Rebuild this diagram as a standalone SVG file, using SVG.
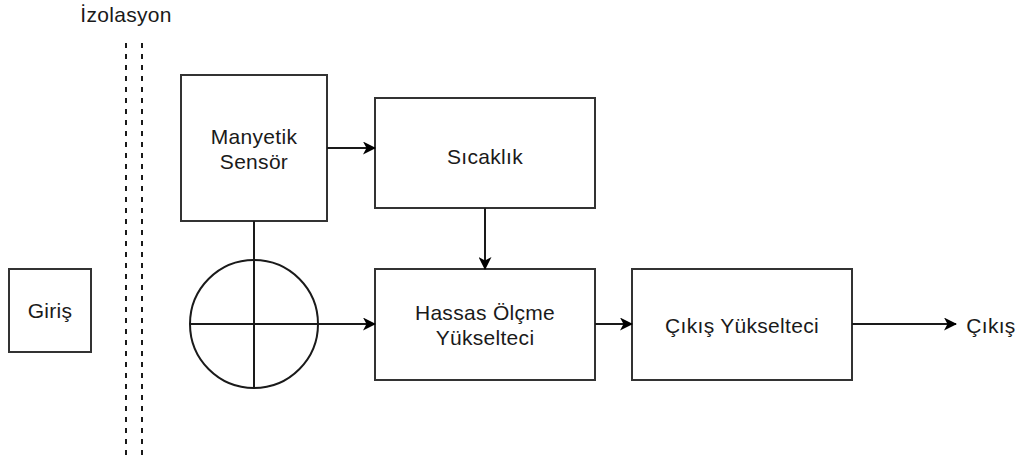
<svg xmlns="http://www.w3.org/2000/svg" width="1019" height="456" viewBox="0 0 1019 456">
  <style>
    .box { fill: #ffffff; stroke: #333333; stroke-width: 2; }
    .wire { fill: none; stroke: #1a1a1a; stroke-width: 2; }
    .iso { fill: none; stroke: #1a1a1a; stroke-width: 2; stroke-dasharray: 5 6; }
    text { font-family: "Liberation Sans", Arial, sans-serif; font-size: 21px; letter-spacing: 0.3px; fill: #1a1a1a; text-anchor: middle; }
  </style>
  <defs>
    <marker id="arrow" viewBox="0 0 13 13" refX="12" refY="6.5" markerWidth="13" markerHeight="13" markerUnits="userSpaceOnUse" orient="auto">
      <path d="M0,0 L13,6.5 L0,13 L3.5,6.5 Z" fill="#000000"/>
    </marker>
  </defs>

  <!-- isolation barrier -->
  <g id="izolasyon">
    <text x="126" y="22">İzolasyon</text>
    <line class="iso" x1="126" y1="43" x2="126" y2="456"/>
    <line class="iso" x1="142" y1="43" x2="142" y2="456"/>
  </g>

  <g id="giris">
    <rect class="box" x="9" y="269" width="82" height="83"/>
    <text x="50" y="318">Giriş</text>
  </g>

  <g id="manyetik-sensor">
    <rect class="box" x="181" y="75" width="146" height="146"/>
    <text x="254" y="144">Manyetik</text>
    <text x="254" y="169">Sensör</text>
  </g>

  <g id="sicaklik">
    <rect class="box" x="375" y="98" width="220" height="110"/>
    <text x="485" y="164">Sıcaklık</text>
  </g>

  <g id="toplayici">
    <circle class="wire" cx="254" cy="324" r="64"/>
  </g>

  <g id="hassas-olcme">
    <rect class="box" x="375" y="269" width="220" height="111"/>
    <text x="485" y="320">Hassas Ölçme</text>
    <text x="485" y="345">Yükselteci</text>
  </g>

  <g id="cikis-yukselteci">
    <rect class="box" x="632" y="269" width="220" height="111"/>
    <text x="742" y="333">Çıkış Yükselteci</text>
  </g>

  <g id="cikis">
    <text x="991" y="333">Çıkış</text>
  </g>

  <!-- connectors -->
  <g id="connectors">
    <line class="wire" x1="254" y1="221" x2="254" y2="388"/>
    <line class="wire" x1="190" y1="324" x2="375" y2="324" marker-end="url(#arrow)"/>
    <line class="wire" x1="327" y1="148" x2="375" y2="148" marker-end="url(#arrow)"/>
    <line class="wire" x1="485" y1="208" x2="485" y2="269" marker-end="url(#arrow)"/>
    <line class="wire" x1="595" y1="324" x2="632" y2="324" marker-end="url(#arrow)"/>
    <line class="wire" x1="852" y1="324" x2="956" y2="324" marker-end="url(#arrow)"/>
  </g>
</svg>
